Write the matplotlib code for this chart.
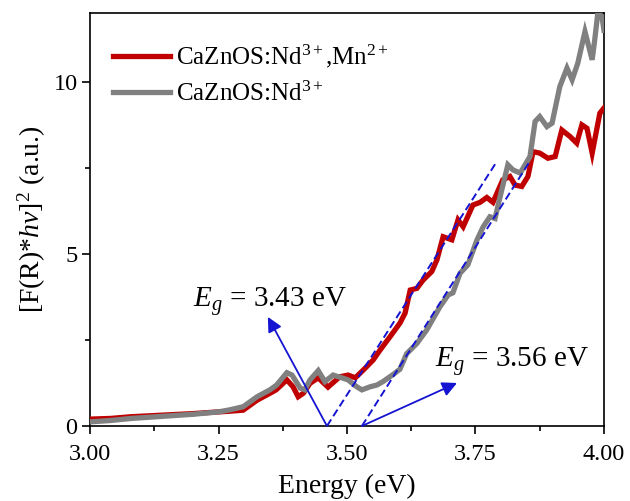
import matplotlib
matplotlib.use("Agg")
import matplotlib.pyplot as plt
from matplotlib.ticker import MultipleLocator

plt.rcParams['font.family'] = ['Liberation Serif', 'DejaVu Serif']
plt.rcParams['mathtext.fontset'] = 'custom'
plt.rcParams['mathtext.rm'] = 'Liberation Serif'
plt.rcParams['mathtext.it'] = 'Liberation Serif:italic'
plt.rcParams['mathtext.bf'] = 'Liberation Serif:bold'

# ---- data ----
red_x = [3.00, 3.04, 3.08, 3.12, 3.16, 3.20, 3.24, 3.272, 3.298, 3.325, 3.350, 3.362,
         3.383, 3.395, 3.405, 3.415, 3.428, 3.444, 3.463, 3.486, 3.502, 3.516, 3.532,
         3.551, 3.564, 3.584, 3.603, 3.613, 3.623, 3.636, 3.648, 3.665, 3.675, 3.687,
         3.704, 3.716, 3.726, 3.745, 3.759, 3.772, 3.784, 3.803, 3.817, 3.827, 3.840,
         3.852, 3.862, 3.875, 3.891, 3.905, 3.918, 3.934, 3.947, 3.957, 3.967, 3.977,
         3.992, 4.000]
red_y = [0.20, 0.22, 0.27, 0.30, 0.33, 0.36, 0.40, 0.43, 0.46, 0.75, 0.95, 1.05,
         1.34, 1.14, 0.85, 0.95, 1.24, 1.40, 1.13, 1.43, 1.48, 1.40, 1.63,
         1.92, 2.20, 2.60, 2.99, 3.28, 3.95, 4.00, 4.24, 4.49, 4.83, 5.50,
         5.41, 5.99, 5.79, 6.42, 6.50, 6.64, 6.50, 7.15, 7.25, 7.00, 6.96,
         7.25, 7.97, 7.93, 7.78, 7.83, 8.60, 8.41, 8.22, 8.75, 8.65, 7.93,
         9.09, 9.24]

gray_x = [3.00, 3.04, 3.08, 3.12, 3.16, 3.20, 3.25, 3.272, 3.298, 3.325, 3.350, 3.363,
          3.383, 3.393, 3.409, 3.418, 3.428, 3.444, 3.457, 3.473, 3.490, 3.502, 3.519,
          3.529, 3.545, 3.558, 3.570, 3.590, 3.603, 3.616, 3.636, 3.655, 3.681, 3.697,
          3.706, 3.720, 3.735, 3.753, 3.765, 3.778, 3.788, 3.798, 3.813, 3.823, 3.837,
          3.856, 3.866, 3.875, 3.889, 3.899, 3.914, 3.928, 3.938, 3.949, 3.963, 3.977,
          3.982, 3.988, 3.996, 4.000]
gray_y = [0.12, 0.16, 0.22, 0.26, 0.30, 0.34, 0.41, 0.47, 0.56, 0.85, 1.05, 1.19,
          1.55, 1.48, 1.10, 1.05, 1.34, 1.61, 1.29, 1.48, 1.40, 1.34, 1.14,
          1.05, 1.14, 1.19, 1.29, 1.50, 1.65, 2.10, 2.40, 2.79, 3.47, 3.81,
          3.87, 4.44, 4.68, 5.41, 5.79, 6.08, 6.03, 6.67, 7.59, 7.44, 7.35,
          7.83, 8.85, 8.99, 8.70, 8.80, 9.86, 10.40, 10.06, 10.54, 11.46, 10.64,
          11.22, 12.00, 11.90, 11.50]

labels = ["CaZnOS:Nd$^{3+}$,Mn$^{2+}$", "CaZnOS:Nd$^{3+}$"]

# tangent (fit) lines: x-intercept and top end
fit1_x = [3.461, 3.790]
fit1_y = [0.0, 7.65]
fit2_x = [3.529, 3.854]
fit2_y = [0.0, 7.65]

eg_labels = ["$E_g$ = 3.43 eV", "$E_g$ = 3.56 eV"]

# ---- figure ----
fig = plt.figure(figsize=(6.30, 5.01), dpi=100)
ax = fig.add_axes([0.1429, 0.1497, 0.9587 - 0.1429, 0.974 - 0.1497])

red_c = '#C00000'
gray_c = '#808080'
blue_c = '#1414D2'

l1, = ax.plot(red_x, red_y, color=red_c, lw=3.8, solid_joinstyle='miter', zorder=3)
l2, = ax.plot(gray_x, gray_y, color=gray_c, lw=3.8, solid_joinstyle='miter', zorder=4)

ax.plot(fit1_x, fit1_y, color=blue_c, lw=1.4, ls=(0, (4, 2)), zorder=5)
ax.plot(fit2_x, fit2_y, color=blue_c, lw=1.4, ls=(0, (4, 2)), zorder=5)

arrow = dict(arrowstyle='-|>', color=blue_c, lw=1.3, mutation_scale=22, shrinkA=0, shrinkB=0)
ax.annotate('', xy=(3.346, 3.17), xytext=(fit1_x[0], 0.0), arrowprops=arrow, zorder=6)
ax.annotate('', xy=(3.714, 1.25), xytext=(fit2_x[0], 0.0), arrowprops=arrow, zorder=6)

ax.text(3.35, 3.45, eg_labels[0], fontsize=21, ha='center', va='baseline')
ax.text(3.82, 1.72, eg_labels[1], fontsize=21, ha='center', va='baseline')

ax.set_xlim(3.0, 4.0)
ax.set_ylim(0, 12)
ax.xaxis.set_minor_locator(MultipleLocator(0.125))
ax.yaxis.set_major_locator(MultipleLocator(5))
ax.yaxis.set_minor_locator(MultipleLocator(2.5))
ax.set_xticks([3.0, 3.25, 3.5, 3.75, 4.0])
ax.set_xticklabels(["3.00", "3.25", "3.50", "3.75", "4.00"])
ax.tick_params(which='major', direction='out', length=6, width=1.2, labelsize=17.5, pad=3)
ax.tick_params(axis='x', which='major', pad=7)
ax.tick_params(which='minor', direction='out', length=3.5, width=1.2)
for s in ax.spines.values():
    s.set_linewidth(1.2)

ax.set_xlabel("Energy (eV)", fontsize=20, labelpad=6)
ax.set_ylabel("[F(R)*$hv$]$^2$ (a.u.)", fontsize=20, labelpad=4)

ax.legend([l1, l2], labels, loc='upper left', bbox_to_anchor=(0.0, 0.982), frameon=False,
          fontsize=18, handlelength=2.3, handletextpad=0.25, labelspacing=0.45,
          borderaxespad=0.6, borderpad=0.3)

fig.savefig("out.png", dpi=100)
